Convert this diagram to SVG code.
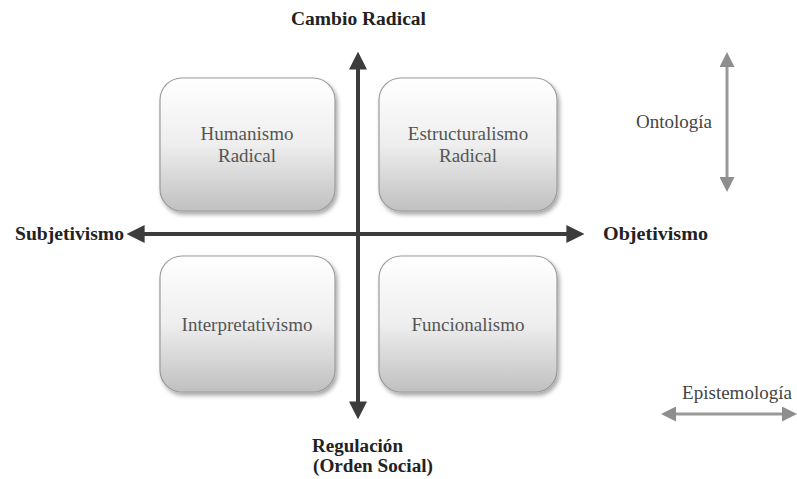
<svg xmlns="http://www.w3.org/2000/svg" width="797" height="479" viewBox="0 0 797 479">
<style>
.box{fill:url(#g);stroke:#9a9a9a;stroke-width:1.2}
.bt{font-family:"Liberation Serif",serif;font-size:19px;fill:#555;text-anchor:middle}
.lb{font-family:"Liberation Serif",serif;font-size:18px;font-weight:bold;fill:#222}
.sm{font-family:"Liberation Serif",serif;font-size:19px;fill:#444;text-anchor:middle}
.ax{stroke:#3c3c3c;stroke-width:4;fill:none}
.gx{stroke:#999;stroke-width:3;fill:none}
</style>
<defs>
<linearGradient id="g" x1="0" y1="0" x2="0" y2="1">
<stop offset="0" stop-color="#ffffff"/>
<stop offset="0.5" stop-color="#eeeeee"/>
<stop offset="1" stop-color="#c0c0c0"/>
</linearGradient>
<filter id="sh" x="-10%" y="-10%" width="125%" height="125%">
<feDropShadow dx="2" dy="3" stdDeviation="2" flood-color="#000" flood-opacity="0.35"/>
</filter>
<marker id="ah" viewBox="0 0 10 10" refX="2" refY="5" markerWidth="4.5" markerHeight="4.5" orient="auto-start-reverse" markerUnits="strokeWidth">
<path d="M0,0 L10,5 L0,10 z" fill="#3c3c3c"/>
</marker>
<marker id="gh" viewBox="0 0 10 10" refX="2" refY="5" markerWidth="5" markerHeight="5" orient="auto-start-reverse" markerUnits="strokeWidth">
<path d="M0,0 L10,5 L0,10 z" fill="#8e8e8e"/>
</marker>
</defs>
<g id="humanismo"><rect class="box" filter="url(#sh)" x="160" y="78" width="175" height="133" rx="22"/><text class="bt" x="247" y="140">Humanismo</text><text class="bt" x="247" y="162">Radical</text></g>
<g id="estructuralismo"><rect class="box" filter="url(#sh)" x="379" y="78" width="178" height="133" rx="22"/><text class="bt" x="468" y="140">Estructuralismo</text><text class="bt" x="468" y="162">Radical</text></g>
<g id="interpretativismo"><rect class="box" filter="url(#sh)" x="160" y="256" width="175" height="136" rx="22"/><text class="bt" x="247" y="331">Interpretativismo</text></g>
<g id="funcionalismo"><rect class="box" filter="url(#sh)" x="379" y="256" width="178" height="136" rx="22"/><text class="bt" x="468" y="331">Funcionalismo</text></g>
<g id="connectors">
<line class="ax" x1="358" y1="66" x2="358" y2="405" marker-start="url(#ah)" marker-end="url(#ah)"/>
<line class="ax" x1="141" y1="234" x2="570" y2="234" marker-start="url(#ah)" marker-end="url(#ah)"/>
<line class="gx" x1="727" y1="64" x2="727" y2="180" marker-start="url(#gh)" marker-end="url(#gh)"/>
<line class="gx" x1="673" y1="414" x2="785" y2="414" marker-start="url(#gh)" marker-end="url(#gh)"/>
</g>
<g id="labels">
<text class="lb" x="291" y="25" textLength="135" lengthAdjust="spacingAndGlyphs">Cambio Radical</text>
<text class="lb" x="15" y="240" textLength="109" lengthAdjust="spacingAndGlyphs">Subjetivismo</text>
<text class="lb" x="603" y="240" textLength="105" lengthAdjust="spacingAndGlyphs">Objetivismo</text>
<text class="lb" x="312" y="452" textLength="91" lengthAdjust="spacingAndGlyphs">Regulación</text>
<text class="lb" x="313" y="472" textLength="120" lengthAdjust="spacingAndGlyphs">(Orden Social)</text>
<text class="sm" x="674" y="128">Ontología</text>
<text class="sm" x="737" y="399">Epistemología</text>
</g>
</svg>
